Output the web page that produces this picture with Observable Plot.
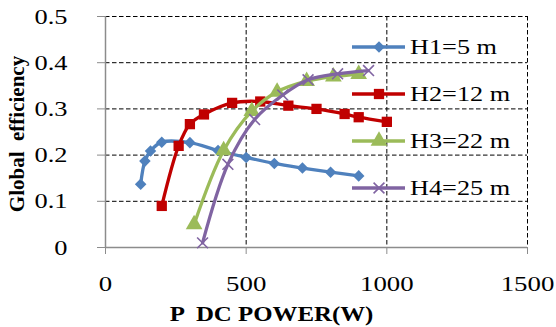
<!DOCTYPE html>
<html>
<head>
<meta charset="utf-8">
<script src="https://cdn.jsdelivr.net/npm/d3@7"></script>
<script src="https://cdn.jsdelivr.net/npm/@observablehq/plot@0.6"></script>
<style>
  html, body { margin: 0; padding: 0; background: #fff; }
  #wrap { position: relative; width: 556px; height: 327px; }
  #legend { position: absolute; left: 352px; top: 0; font-family: "Liberation Serif", "Times New Roman", serif; font-size: 21px; color: #000; }
  .row { position: absolute; left: 0; display: flex; align-items: center; white-space: nowrap; height: 24px; }
  .row svg { display: block; margin-right: 4px; }
  .row span { display: inline-block; transform: scaleX(1.25); transform-origin: left center; }
</style>
</head>
<body>
<div id="wrap"></div>
<script>
// ---- data ----
const seriesNames = ["H1=5 m", "H2=12 m", "H3=22 m", "H4=25 m"];
const h1Power = [125, 140, 160, 200, 300, 400, 500, 600, 700, 800, 900];
const h1Eff   = [0.137, 0.187, 0.209, 0.228, 0.227, 0.21, 0.195, 0.182, 0.172, 0.163, 0.155];
const h2Power = [200, 260, 300, 350, 450, 550, 650, 750, 850, 900, 1000];
const h2Eff   = [0.09, 0.22, 0.267, 0.288, 0.313, 0.316, 0.307, 0.30, 0.289, 0.282, 0.272];
const h3Power = [315, 420, 520, 610, 715, 810, 900];
const h3Eff   = [0.05, 0.21, 0.295, 0.337, 0.36, 0.37, 0.375];
const h4Power = [345, 435, 530, 630, 720, 825, 935];
const h4Eff   = [0.01, 0.18, 0.277, 0.33, 0.363, 0.376, 0.383];
const xTicks = [0, 500, 1000, 1500];
const yTicks = [0, 0.1, 0.2, 0.3, 0.4, 0.5];
const xLabel = "P  DC POWER(W)";
const yLabel = "Global  efficiency";

const colors = ["#4F81BD", "#C00000", "#9BBB59", "#8064A2"];
const symbols = ["diamond2", "square", "triangle", "times"];
const rs = [5.2, 5.8, 6.2, 5];

const powers = [h1Power, h2Power, h3Power, h4Power];
const effs = [h1Eff, h2Eff, h3Eff, h4Eff];
const data = [];
seriesNames.forEach((s, i) => powers[i].forEach((p, j) => data.push({series: s, power: p, eff: effs[i][j]})));

const serif = '"Liberation Serif", "Times New Roman", serif';
const dash = "4.5,2.5";

const marks = [
  Plot.ruleY(yTicks.filter(d => d > 0), {stroke: "#000", strokeWidth: 1, strokeDasharray: dash}),
  Plot.ruleX(xTicks.filter(d => d > 0), {stroke: "#000", strokeWidth: 1, strokeDasharray: dash}),
  Plot.ruleX([0], {stroke: "#8c8c8c", strokeWidth: 1.5}),
  Plot.ruleY([0], {stroke: "#8c8c8c", strokeWidth: 1.5}),
  Plot.axisX({ticks: xTicks, tickSize: 7, tickPadding: 21, stroke: "#8c8c8c", label: null, tickFormat: d => String(d), fontSize: 22, fontFamily: serif}),
  Plot.axisY({ticks: yTicks, tickSize: 8, tickPadding: 30, stroke: "#8c8c8c", label: null, tickFormat: d => d === 0 ? "0" : d.toFixed(1), fontSize: 22, fontFamily: serif}),
];
seriesNames.forEach((s, i) => {
  const sub = data.filter(d => d.series === s);
  marks.push(Plot.line(sub, {x: "power", y: "eff", stroke: colors[i], strokeWidth: 3.3, curve: "catmull-rom"}));
  if (symbols[i] === "times") {
    marks.push(Plot.dot(sub, {x: "power", y: "eff", symbol: "times", r: rs[i], stroke: colors[i], strokeWidth: 1.6}));
  } else {
    marks.push(Plot.dot(sub, {x: "power", y: "eff", symbol: symbols[i], r: rs[i], fill: colors[i], stroke: "none"}));
  }
});
marks.push(Plot.text([xLabel], {frameAnchor: "bottom", text: d => d, textAnchor: "middle", dx: -45, dy: 66, fontSize: 22, fontWeight: "bold", fontFamily: serif, lineAnchor: "middle"}));
marks.push(Plot.text([yLabel], {frameAnchor: "left", text: d => d, textAnchor: "middle", rotate: -90, dx: -88, dy: 2, fontSize: 21, fontWeight: "bold", fontFamily: serif, lineAnchor: "middle"}));

const chart = Plot.plot({
  width: 556,
  height: 327,
  marginLeft: 105,
  marginRight: 29,
  marginTop: 16,
  marginBottom: 80,
  x: {domain: [0, 1500]},
  y: {domain: [0, 0.5]},
  style: {fontFamily: serif, fontSize: "20px", color: "#000", background: "#fff", overflow: "visible"},
  marks
});

const wrap = document.getElementById("wrap");
wrap.appendChild(chart);

// widen glyphs horizontally (the reference text is stretched)
function stretch(el, sx) {
  const w = el.getComputedTextLength();
  if (w > 0) {
    el.setAttribute("textLength", (w * sx).toFixed(2));
    el.setAttribute("lengthAdjust", "spacingAndGlyphs");
  }
}
const allText = Array.from(chart.querySelectorAll("text"));
allText.forEach(t => t.setAttribute("font-family", serif));
const xLabelEl = allText.filter(t => t.textContent === xLabel);
const yLabelEl = allText.filter(t => t.textContent === yLabel);
xLabelEl.concat(yLabelEl).forEach(t => { t.style.whiteSpace = "pre"; t.setAttribute("xml:space", "preserve"); });
chart.querySelectorAll('[aria-label="x-axis tick label"] text').forEach(t => stretch(t, 1.22));
chart.querySelectorAll('[aria-label="y-axis tick label"] text').forEach(t => stretch(t, 1.2));
xLabelEl.forEach(t => stretch(t, 1.13));

// legend overlay
const legend = document.createElement("div");
legend.id = "legend";
const rowY = [47, 94, 141, 188];
seriesNames.forEach((s, i) => {
  const row = document.createElement("div");
  row.className = "row";
  row.style.top = (rowY[i] - 12) + "px";
  const sw = d3.create("svg").attr("width", 54).attr("height", 20);
  sw.append("line").attr("x1", 0).attr("x2", 53).attr("y1", 10).attr("y2", 10).attr("stroke", colors[i]).attr("stroke-width", 3.3);
  const sym = {diamond2: d3.symbolDiamond2, square: d3.symbolSquare, triangle: d3.symbolTriangle, times: d3.symbolTimes}[symbols[i]];
  const size = rs[i] * rs[i] * Math.PI;
  const p = sw.append("path").attr("transform", "translate(27,10)").attr("d", d3.symbol(sym, size)());
  if (symbols[i] === "times") p.attr("fill", "none").attr("stroke", colors[i]).attr("stroke-width", 1.6);
  else p.attr("fill", colors[i]);
  row.appendChild(sw.node());
  const t = document.createElement("span");
  t.textContent = s;
  row.appendChild(t);
  legend.appendChild(row);
});
wrap.appendChild(legend);
</script>
</body>
</html>
